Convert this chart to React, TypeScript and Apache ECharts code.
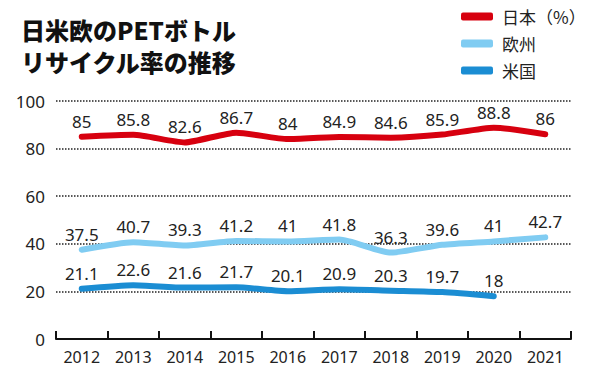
import React, { useEffect, useRef } from "react";
import * as echarts from "echarts";

const years = ["2012", "2013", "2014", "2015", "2016", "2017", "2018", "2019", "2020", "2021"];
const japan = [85, 85.8, 82.6, 86.7, 84, 84.9, 84.6, 85.9, 88.8, 86];
const europe = [37.5, 40.7, 39.3, 41.2, 41, 41.8, 36.3, 39.6, 41, 42.7];
const usa = [21.1, 22.6, 21.6, 21.7, 20.1, 20.9, 20.3, 19.7, 18, null];
const seriesNames = ["日本（%）", "欧州", "米国"];
const colors = ["#d7000f", "#80ccf2", "#1b8dd3"];
const yTicks = [0, 20, 40, 60, 80, 100];

const FONT = "'Noto Sans CJK JP', 'Noto Sans', sans-serif";
const NUMFONT = "'Noto Sans', 'Open Sans', sans-serif";

export default function App() {
  const ref = useRef<HTMLDivElement>(null);
  useEffect(() => {
    if (!ref.current) return;
    const chart = echarts.init(ref.current, undefined, { renderer: "svg" });
    const mk = (name: string, data: (number | null)[], color: string) => ({
      name,
      type: "line",
      data,
      smooth: 0.2,
      symbol: "circle",
      symbolSize: 0,
      showSymbol: true,
      connectNulls: false,
      lineStyle: { color, width: 6, cap: "round", join: "round" },
      itemStyle: { color },
      label: {
        show: true,
        position: "top",
        distance: 7,
        color: "#222",
        fontSize: 17,
        fontFamily: NUMFONT,
      },
    });
    chart.setOption({
      animation: false,
      textStyle: { fontFamily: FONT },
      title: {
        text: "日米欧のPETボトル\nリサイクル率の推移",
        left: 16,
        top: 8,
        textStyle: {
          fontSize: 24,
          fontWeight: 900,
          color: "#111",
          lineHeight: 32,
          fontFamily: FONT,
        },
      },
      legend: {
        orient: "vertical",
        left: 456,
        top: 3,
        itemWidth: 32,
        itemHeight: 8,
        itemGap: 10,
        icon: "roundRect",
        data: seriesNames,
        textStyle: { fontSize: 17, color: "#222", fontFamily: FONT, padding: [0, 0, 0, 4] },
      },
      grid: { left: 56, right: 29, top: 101, bottom: 41 },
      xAxis: {
        type: "category",
        data: years,
        boundaryGap: true,
        axisLine: { lineStyle: { color: "#111", width: 2 } },
        axisTick: { show: true, inside: true, length: 8, lineStyle: { color: "#111", width: 2 } },
        axisLabel: { color: "#222", fontSize: 16, margin: 10, fontFamily: NUMFONT },
      },
      yAxis: {
        type: "value",
        min: yTicks[0],
        max: yTicks[yTicks.length - 1],
        interval: 20,
        axisLine: { show: false },
        axisTick: { show: false },
        axisLabel: { color: "#222", fontSize: 17, margin: 11, fontFamily: NUMFONT },
        splitLine: { lineStyle: { type: "dotted", color: "#222", width: 1.5 } },
      },
      series: [mk(seriesNames[0], japan, colors[0]), mk(seriesNames[1], europe, colors[1]), mk(seriesNames[2], usa, colors[2])],
    });
    return () => chart.dispose();
  }, []);
  return <div ref={ref} style={{ width: 600, height: 380, position: "absolute", left: 0, top: 0, background: "#fff" }} />;
}
